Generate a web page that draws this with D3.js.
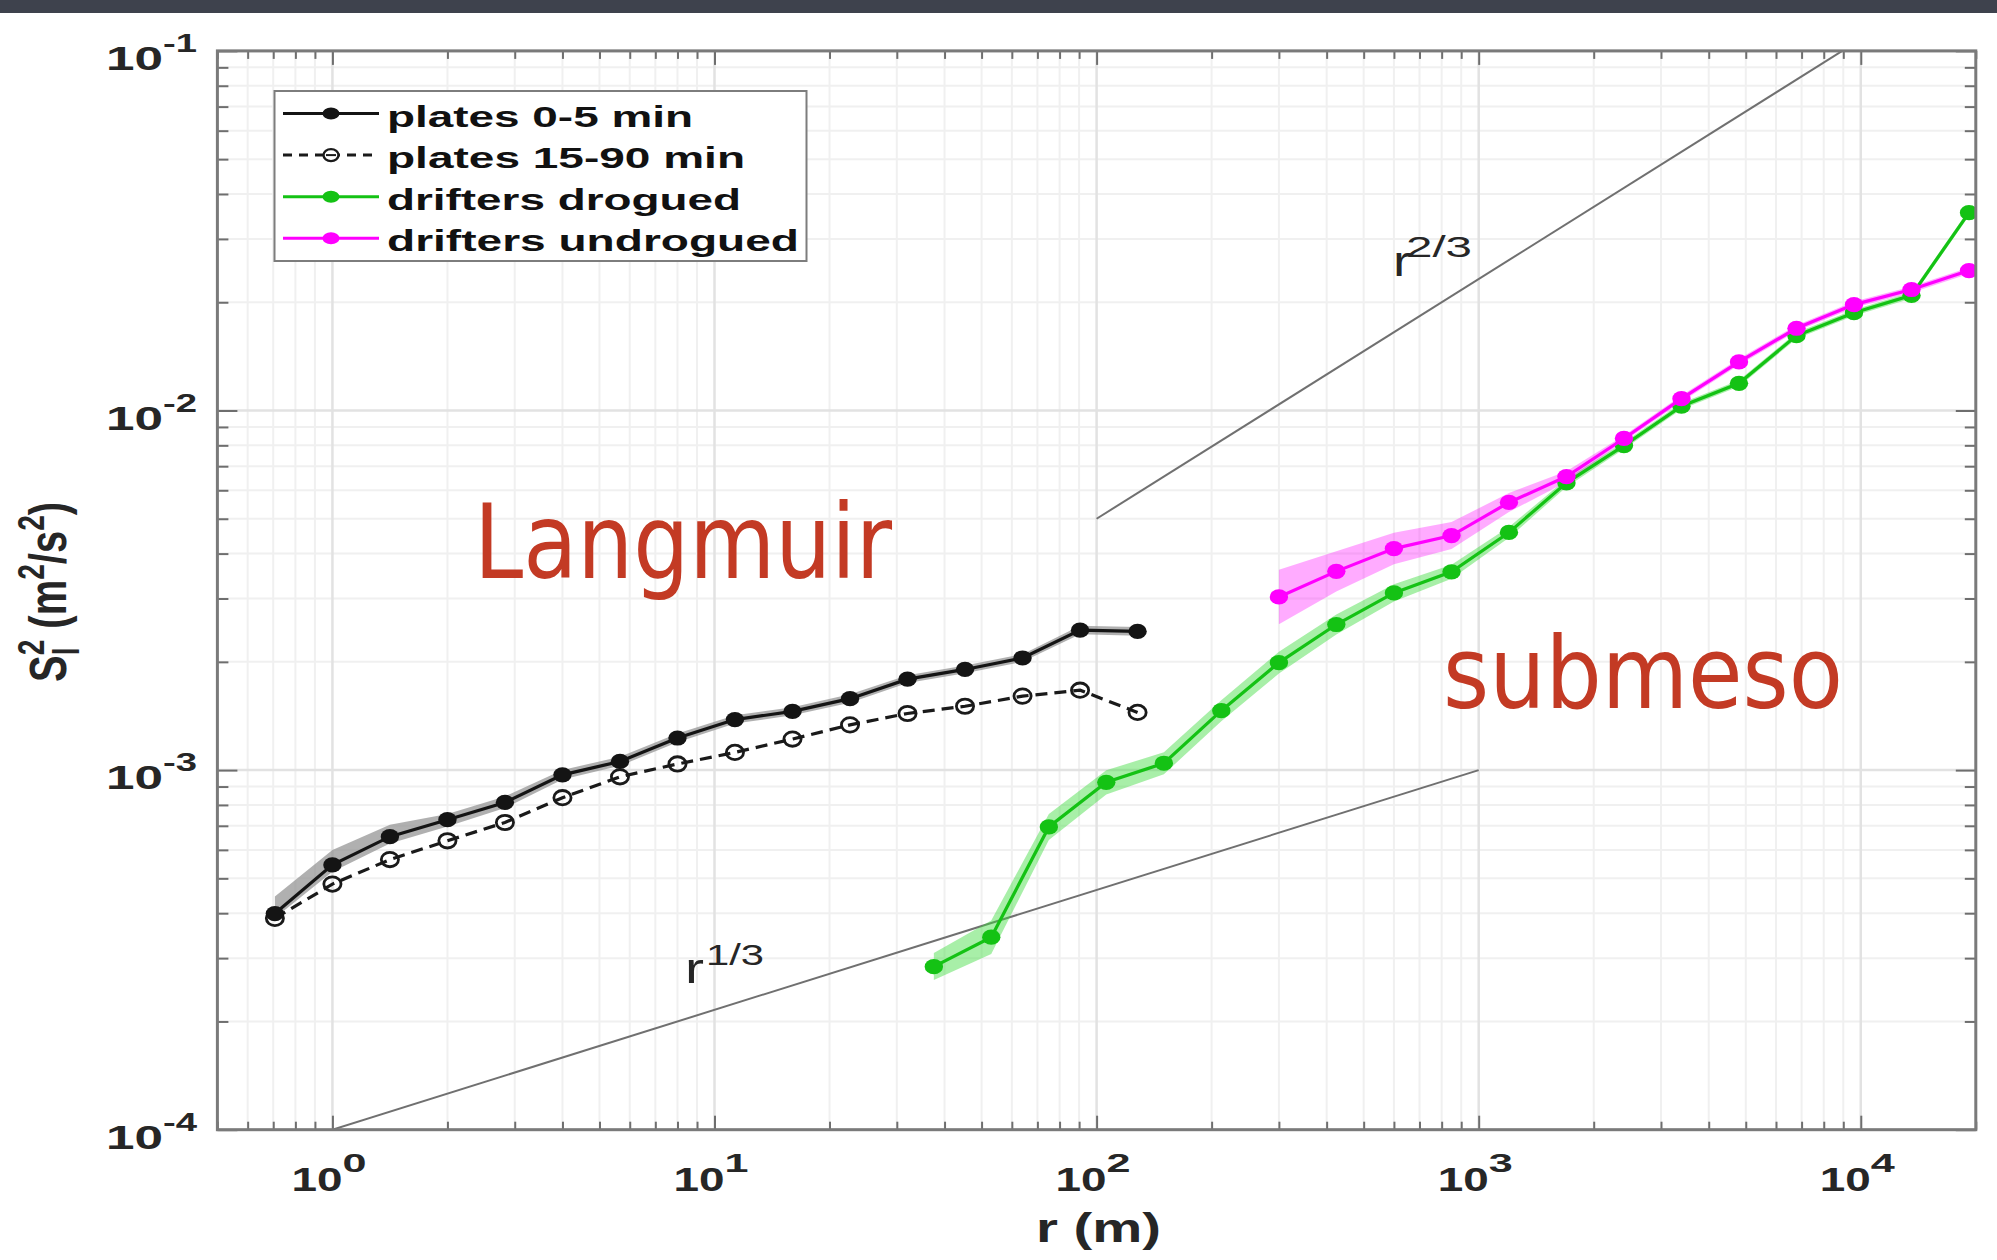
<!DOCTYPE html>
<html>
<head>
<meta charset="utf-8">
<script src="https://cdn.jsdelivr.net/npm/d3@7"></script>
<style>
  html, body { margin: 0; padding: 0; background: #fff; }
  svg { display: block; }
</style>
</head>
<body>
<svg id="chart" width="1997" height="1260"></svg>
<script>
// ---- data: second-order longitudinal structure function vs separation ----
// plates, separations in m
const rPlates = [0.707, 1, 1.414, 2, 2.828, 4, 5.657, 8, 11.31, 16, 22.63, 32, 45.25, 64, 90.51, 128];
const platesEarly   = [3.99e-4, 5.45e-4, 6.53e-4, 7.28e-4, 8.13e-4, 9.70e-4, 1.057e-3, 1.228e-3, 1.382e-3, 1.456e-3, 1.580e-3, 1.790e-3, 1.905e-3, 2.050e-3, 2.450e-3, 2.430e-3];
const platesEarlyHi = [4.45e-4, 6.00e-4, 7.05e-4, 7.55e-4, 8.45e-4, 1.000e-3, 1.090e-3, 1.265e-3, 1.420e-3, 1.495e-3, 1.625e-3, 1.835e-3, 1.955e-3, 2.100e-3, 2.520e-3, 2.500e-3];
const platesEarlyLo = [3.88e-4, 5.22e-4, 6.25e-4, 6.97e-4, 7.85e-4, 9.42e-4, 1.028e-3, 1.195e-3, 1.347e-3, 1.420e-3, 1.540e-3, 1.748e-3, 1.858e-3, 2.000e-3, 2.385e-3, 2.365e-3];
const platesLate    = [3.87e-4, 4.82e-4, 5.64e-4, 6.36e-4, 7.15e-4, 8.38e-4, 9.58e-4, 1.040e-3, 1.120e-3, 1.220e-3, 1.336e-3, 1.437e-3, 1.505e-3, 1.606e-3, 1.668e-3, 1.447e-3];

// drogued drifters
const rDrogued  = [37.5, 53, 75, 106, 150, 212, 300, 424, 600, 849, 1200, 1697, 2400, 3394, 4800, 6788, 9600, 13576, 19200];
const drogued   = [2.84e-4, 3.43e-4, 6.95e-4, 9.25e-4, 1.045e-3, 1.463e-3, 1.99e-3, 2.54e-3, 3.11e-3, 3.56e-3, 4.58e-3, 6.29e-3, 7.99e-3, 1.028e-2, 1.19e-2, 1.615e-2, 1.87e-2, 2.09e-2, 3.55e-2];
const droguedHi = [3.10e-4, 3.82e-4, 7.55e-4, 9.99e-4, 1.121e-3, 1.565e-3, 2.135e-3, 2.708e-3, 3.287e-3, 3.724e-3, 4.74e-3, 6.454e-3, 8.166e-3, 1.049e-2, 1.214e-2, 1.647e-2, 1.907e-2, 2.132e-2, 3.62e-2];
const droguedLo = [2.61e-4, 3.08e-4, 6.39e-4, 8.56e-4, 9.74e-4, 1.367e-3, 1.855e-3, 2.383e-3, 2.942e-3, 3.403e-3, 4.425e-3, 6.13e-3, 7.818e-3, 1.008e-2, 1.167e-2, 1.583e-2, 1.833e-2, 2.049e-2, 3.48e-2];

// undrogued drifters
const rUndrogued  = [300, 424, 600, 849, 1200, 1697, 2400, 3394, 4800, 6788, 9600, 13576, 19200];
const undrogued   = [3.03e-3, 3.57e-3, 4.13e-3, 4.49e-3, 5.55e-3, 6.55e-3, 8.36e-3, 1.079e-2, 1.365e-2, 1.693e-2, 1.97e-2, 2.17e-2, 2.45e-2];
const undroguedHi = [3.606e-3, 4.059e-3, 4.568e-3, 4.894e-3, 5.90e-3, 6.779e-3, 8.527e-3, 1.101e-2, 1.392e-2, 1.727e-2, 2.009e-2, 2.213e-2, 2.499e-2];
const undroguedLo = [2.546e-3, 3.14e-3, 3.734e-3, 4.119e-3, 5.221e-3, 6.329e-3, 8.196e-3, 1.058e-2, 1.338e-2, 1.66e-2, 1.931e-2, 2.127e-2, 2.402e-2];

// reference power laws (end points)
const slope23R = [100, 8944];
const slope23S = [5e-3, 1e-1];
const slope13R = [1, 1000];
const slope13S = [1e-4, 1e-3];

// axes
const xTickExps = [0, 1, 2, 3, 4];
const yTickExps = [-4, -3, -2, -1];
const legendLabels = ["plates 0-5 min", "plates 15-90 min", "drifters drogued", "drifters undrogued"];

// ---- layout ----
const W = 1997, H = 1260;
const plot = { left: 217.4, right: 1975.8, top: 50.9, bottom: 1129.7 };
const FONT = "'Liberation Sans', Arial, Helvetica, sans-serif";

const x = d3.scaleLog().domain([0.5, 20000]).range([plot.left, plot.right]);
const y = d3.scaleLog().domain([1e-4, 1e-1]).range([plot.bottom, plot.top]);

const svg = d3.select("#chart");
svg.append("rect").attr("width", W).attr("height", H).attr("fill", "#ffffff");
// slide header strip
svg.append("rect").attr("width", W).attr("height", 13).attr("fill", "#3e424d");

svg.append("defs").append("clipPath").attr("id", "plotClip")
  .append("rect")
  .attr("x", plot.left).attr("y", plot.top)
  .attr("width", plot.right - plot.left).attr("height", plot.bottom - plot.top);

const isMajor = v => Math.abs(Math.log10(v) - Math.round(Math.log10(v))) < 1e-9;
const xAll = x.ticks(), yAll = y.ticks();
const xMinor = xAll.filter(v => !isMajor(v)), xMajor = xAll.filter(isMajor);
const yMinor = yAll.filter(v => !isMajor(v)), yMajor = yAll.filter(isMajor);

// ---- grid ----
const grid = svg.append("g");
grid.selectAll(".gxm").data(xMinor).join("line")
  .attr("x1", d => x(d)).attr("x2", d => x(d))
  .attr("y1", plot.top).attr("y2", plot.bottom)
  .attr("stroke", "#f0f0f0").attr("stroke-width", 2);
grid.selectAll(".gym").data(yMinor).join("line")
  .attr("y1", d => y(d)).attr("y2", d => y(d))
  .attr("x1", plot.left).attr("x2", plot.right)
  .attr("stroke", "#f0f0f0").attr("stroke-width", 2);
grid.selectAll(".gxM").data(xMajor).join("line")
  .attr("x1", d => x(d)).attr("x2", d => x(d))
  .attr("y1", plot.top).attr("y2", plot.bottom)
  .attr("stroke", "#e2e2e2").attr("stroke-width", 2.5);
grid.selectAll(".gyM").data(yMajor).join("line")
  .attr("y1", d => y(d)).attr("y2", d => y(d))
  .attr("x1", plot.left).attr("x2", plot.right)
  .attr("stroke", "#e2e2e2").attr("stroke-width", 2.5);

// ---- inward ticks on all four sides ----
function tickAxis(axisFn, scale, values, size, transform) {
  const g = svg.append("g").attr("transform", transform)
    .call(axisFn(scale).tickValues(values).tickSize(-size).tickSizeOuter(0).tickFormat(""));
  g.select(".domain").remove();
  g.selectAll(".tick line").attr("stroke", "#6e6e6e").attr("stroke-width", 2);
}
tickAxis(d3.axisBottom, x, xMinor, 8, `translate(0,${plot.bottom})`);
tickAxis(d3.axisBottom, x, xMajor, 14, `translate(0,${plot.bottom})`);
tickAxis(d3.axisTop, x, xMinor, 8, `translate(0,${plot.top})`);
tickAxis(d3.axisTop, x, xMajor, 14, `translate(0,${plot.top})`);
tickAxis(d3.axisLeft, y, yMinor, 11, `translate(${plot.left},0)`);
tickAxis(d3.axisLeft, y, yMajor, 20, `translate(${plot.left},0)`);
tickAxis(d3.axisRight, y, yMinor, 11, `translate(${plot.right},0)`);
tickAxis(d3.axisRight, y, yMajor, 20, `translate(${plot.right},0)`);

// ---- plotted content ----
const body = svg.append("g").attr("clip-path", "url(#plotClip)");

// power-law guide lines
const guide = d3.line().x(d => x(d[0])).y(d => y(d[1]));
body.append("path").datum(d3.zip(slope23R, slope23S))
  .attr("d", guide).attr("fill", "none").attr("stroke", "#707070").attr("stroke-width", 2);
body.append("path").datum(d3.zip(slope13R, slope13S))
  .attr("d", guide).attr("fill", "none").attr("stroke", "#707070").attr("stroke-width", 2);

function band(rs, lo, hi, fill, opacity) {
  const area = d3.area()
    .x(i => x(rs[i])).y0(i => y(lo[i])).y1(i => y(hi[i]));
  body.append("path").datum(d3.range(rs.length))
    .attr("d", area).attr("fill", fill).attr("fill-opacity", opacity).attr("stroke", "none");
}
function series(rs, vs, color, opts) {
  const line = d3.line().x(i => x(rs[i])).y(i => y(vs[i]));
  const idx = d3.range(rs.length);
  body.append("path").datum(idx)
    .attr("d", line).attr("fill", "none").attr("stroke", color)
    .attr("stroke-width", 3.2)
    .attr("stroke-dasharray", opts.dash || null);
  body.append("g").selectAll("ellipse").data(idx).join("ellipse")
    .attr("cx", i => x(rs[i])).attr("cy", i => y(vs[i]))
    .attr("rx", opts.open ? 8.6 : 9.2).attr("ry", opts.open ? 7.2 : 7.6)
    .attr("fill", opts.open ? "none" : color)
    .attr("stroke", color).attr("stroke-width", opts.open ? 2.8 : 0);
}

band(rPlates, platesEarlyLo, platesEarlyHi, "#8f8f8f", 0.7);
band(rDrogued, droguedLo, droguedHi, "#3ddc3d", 0.45);
band(rUndrogued, undroguedLo, undroguedHi, "#ff00ff", 0.33);

series(rPlates, platesLate, "#1a1a1a", { open: true, dash: "12,7" });
series(rPlates, platesEarly, "#141414", {});
series(rDrogued, drogued, "#14c214", {});
series(rUndrogued, undrogued, "#ff00ff", {});

// ---- frame ----
svg.append("rect")
  .attr("x", plot.left).attr("y", plot.top)
  .attr("width", plot.right - plot.left).attr("height", plot.bottom - plot.top)
  .attr("fill", "none").attr("stroke", "#7a7a7a").attr("stroke-width", 3);

// ---- tick labels ----
function stretchedText(parent, str, px, py, size, len, weight) {
  return parent.append("text")
    .attr("x", px).attr("y", py)
    .attr("font-family", FONT).attr("font-size", size)
    .attr("font-weight", weight || "bold")
    .attr("fill", "#262626")
    .attr("textLength", len).attr("lengthAdjust", "spacingAndGlyphs")
    .text(str);
}
yTickExps.forEach(e => {
  const yy = y(Math.pow(10, e));
  stretchedText(svg, "10", 106, yy + 19, 34, 57);
  stretchedText(svg, String(e), 163, yy + 1, 26, 34);
});
xTickExps.forEach(e => {
  const xx = x(Math.pow(10, e));
  stretchedText(svg, "10", xx - 41, 1191, 34, 51);
  stretchedText(svg, String(e), xx + 10, 1172, 26, 24);
});

// x label
stretchedText(svg, "r (m)", 1036, 1242, 40, 125);

// y label: S_l^2 (m^2/s^2), rotated, glyphs stretched across
const yLab = svg.append("g").attr("transform", "translate(66,592) scale(1.3,1) rotate(-90)");
const yLabInner = yLab.append("g");
const pieces = [
  { t: "S", size: 40, dy: 0 },
  { t: "l", size: 28, dy: 10 },
  { t: "2", size: 28, dy: -17, stack: true },
  { t: "\u00a0(m", size: 40, dy: 0 },
  { t: "2", size: 28, dy: -17 },
  { t: "/s", size: 40, dy: 0 },
  { t: "2", size: 28, dy: -17 },
  { t: ")", size: 40, dy: 0 }
];
let cursor = 0, prevStart = 0;
pieces.forEach(p => {
  const start = p.stack ? prevStart : cursor;
  const el = yLabInner.append("text")
    .attr("x", start).attr("y", p.dy)
    .attr("font-family", FONT).attr("font-size", p.size).attr("font-weight", "bold")
    .attr("fill", "#262626").text(p.t);
  const w = el.node().getComputedTextLength();
  cursor = p.stack ? Math.max(cursor, start + w) : start + w;
  prevStart = start;
});
yLabInner.attr("transform", `translate(${-cursor / 2},0)`);

// ---- slope annotations ----
stretchedText(svg, "r", 1393, 276, 42, 18, "normal");
stretchedText(svg, "2/3", 1406, 257, 29, 66, "normal");
stretchedText(svg, "r", 685, 983, 42, 19, "normal");
stretchedText(svg, "1/3", 706, 965, 29, 58, "normal");

// ---- legend ----
const leg = svg.append("g");
leg.append("rect").attr("x", 274.5).attr("y", 91).attr("width", 532).attr("height", 170)
  .attr("fill", "#ffffff").attr("stroke", "#7d7d7d").attr("stroke-width", 2);
const legStyles = [
  { color: "#141414", open: false, dash: null },
  { color: "#1a1a1a", open: true, dash: "9,7" },
  { color: "#14c214", open: false, dash: null },
  { color: "#ff00ff", open: false, dash: null }
];
const legLens = [306, 358, 354, 412];
legendLabels.forEach((lab, i) => {
  const ly = 113.5 + i * 41.6;
  const st = legStyles[i];
  leg.append("line").attr("x1", 283).attr("x2", 379).attr("y1", ly).attr("y2", ly)
    .attr("stroke", st.color).attr("stroke-width", 3)
    .attr("stroke-dasharray", st.dash);
  leg.append("ellipse").attr("cx", 331).attr("cy", ly)
    .attr("rx", st.open ? 7.5 : 8.5).attr("ry", st.open ? 6 : 6)
    .attr("fill", st.open ? "#ffffff" : st.color)
    .attr("stroke", st.color).attr("stroke-width", st.open ? 2.4 : 0);
  if (st.open) {
    leg.append("line").attr("x1", 326).attr("x2", 336).attr("y1", ly).attr("y2", ly)
      .attr("stroke", st.color).attr("stroke-width", 2);
  }
  stretchedText(leg, lab, 387, ly + 13, 30, legLens[i]).attr("fill", "#111");
});

// ---- regime annotations ----
svg.append("text").attr("x", 474).attr("y", 578)
  .attr("font-family", "'DejaVu Sans', 'Noto Sans', sans-serif").attr("font-size", 103)
  .attr("fill", "#c33a24").attr("textLength", 418).attr("lengthAdjust", "spacingAndGlyphs")
  .text("Langmuir");
svg.append("text").attr("x", 1443).attr("y", 708)
  .attr("font-family", "'DejaVu Sans', 'Noto Sans', sans-serif").attr("font-size", 100)
  .attr("fill", "#c33a24").attr("textLength", 400).attr("lengthAdjust", "spacingAndGlyphs")
  .text("submeso");
</script>
</body>
</html>
